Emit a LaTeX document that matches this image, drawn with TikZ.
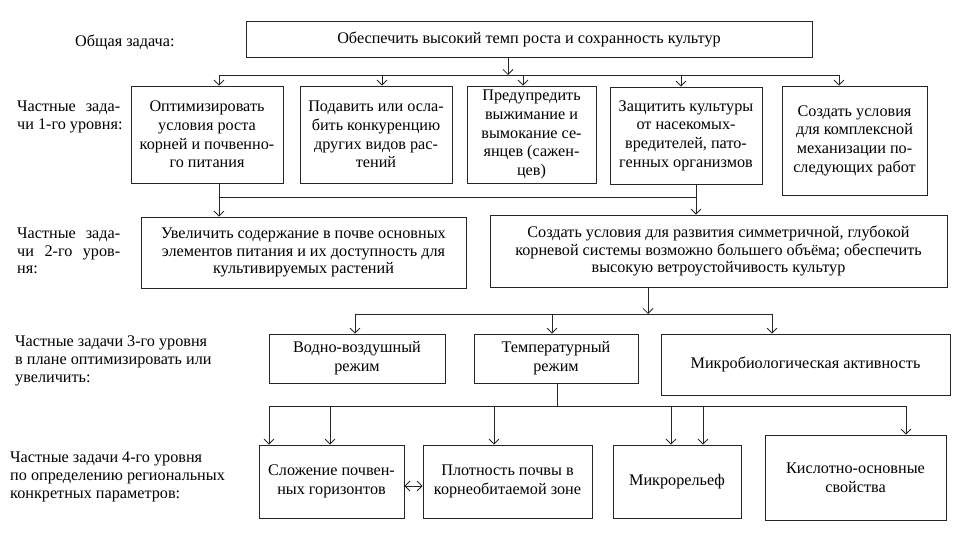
\documentclass[tikz,border=0pt]{standalone}
\usepackage{fontspec}
\setmainfont{Liberation Serif}
\usetikzlibrary{arrows.meta}
\newcommand{\jline}[1]{\makebox[103pt][s]{#1}}
\begin{document}
\begin{tikzpicture}[x=1pt,y=-1pt,
  txt/.style={font=\fontsize{16.2}{18.7}\selectfont, inner sep=0pt},
  tight/.style={font=\fontsize{16.2}{17.7}\selectfont},
  box/.style={txt, draw=black!85, line width=0.8pt, align=center},
  lbl/.style={txt, align=left, anchor=west},
  ln/.style={draw=black!85, line width=0.8pt},
  arr/.style={ln, -{Straight Barb[length=5pt,width=10pt]}},
  dbl/.style={ln, {Straight Barb[length=5pt,width=10pt]}-{Straight Barb[length=5pt,width=10pt]}}]
\useasboundingbox (0,0) rectangle (957,548);
% labels
\node[lbl] (l0) at (75,42) {Общая задача:};
\node[lbl] (l1) at (17,117) {\jline{Частные зада-}\\чи 1-го уровня:};
\node[lbl, tight] (l2) at (17,251) {\jline{Частные зада-}\\\jline{чи 2-го уров-}\\ня:};
\node[lbl, tight] (l3) at (15,361) {Частные задачи 3-го уровня\\в плане оптимизировать или\\увеличить:};
\node[lbl, tight] (l4) at (10,477) {Частные задачи 4-го уровня\\по определению региональных\\конкретных параметров:};
% boxes
\node[box, minimum width=566pt, minimum height=36pt] (top) at (529,39) {Обеспечить высокий темп роста и сохранность культур};
\node[box, minimum width=152pt, minimum height=97pt] (b1) at (207,134.5) {Оптимизировать\\условия роста\\корней и почвенно-\\го питания};
\node[box, minimum width=152pt, minimum height=97pt] (b2) at (376,134.5) {Подавить или осла-\\бить конкуренцию\\других видов рас-\\тений};
\node[box, minimum width=129pt, minimum height=97pt] (b3) at (531.5,134.5) {Предупредить\\выжимание и\\вымокание се-\\янцев (сажен-\\цев)};
\node[box, minimum width=152pt, minimum height=97pt] (b4) at (686,135.5) {Защитить культуры\\от насекомых-\\вредителей, пато-\\генных организмов};
\node[box, minimum width=145pt, minimum height=109pt] (b5) at (854.5,140.5) {Создать условия\\для комплексной\\механизации по-\\следующих работ};
\node[box, tight, minimum width=325pt, minimum height=71pt] (c1) at (303.5,252.5) {Увеличить содержание в почве основных\\элементов питания и их доступность для\\культивируемых растений};
\node[box, tight, minimum width=457pt, minimum height=72pt] (c2) at (718.5,251) {Создать условия для развития симметричной, глубокой\\корневой системы возможно большего объёма; обеспечить\\высокую ветроустойчивость культур};
\node[box, minimum width=176pt, minimum height=49pt] (d1) at (357,358.5) {Водно-воздушный\\режим};
\node[box, minimum width=164pt, minimum height=49pt] (d2) at (556,358.5) {Температурный\\режим};
\node[box, minimum width=289pt, minimum height=61pt] (d3) at (805.5,364.5) {Микробиологическая активность};
\node[box, minimum width=145pt, minimum height=73pt] (e1) at (331.5,481.5) {Сложение почвен-\\ных горизонтов};
\node[box, minimum width=169pt, minimum height=73pt] (e2) at (507.5,481.5) {Плотность почвы в\\корнеобитаемой зоне};
\node[box, minimum width=128pt, minimum height=73pt] (e3) at (677,481.5) {Микрорельеф};
\node[box, minimum width=181pt, minimum height=85pt] (e4) at (855.5,477.5) {Кислотно-основные\\свойства};
% bus 1
\coordinate (t1) at (508,75);
\coordinate (p1) at (219,75);
\coordinate (p2) at (382,75);
\coordinate (p3) at (523,75);
\coordinate (p4) at (681,75);
\coordinate (p5) at (839,75);
\draw[arr] (top.south -| t1) -- (t1);
\draw[ln] (p1) -- (p5);
\draw[arr] (p1) -- (p1 |- b1.north);
\draw[arr] (p2) -- (p2 |- b2.north);
\draw[arr] (p3) -- (p3 |- b3.north);
\draw[arr] (p4) -- (p4 |- b4.north);
\draw[arr] (p5) -- (p5 |- b5.north);
% bus 2
\coordinate (q1) at (219,197);
\coordinate (q2) at (696,197);
\draw[ln] (b1.south -| q1) -- (q1) -- (q2) -- (b4.south -| q2);
\draw[arr] (q1) -- (q1 |- c1.north);
\draw[arr] (q2) -- (q2 |- c2.north);
% bus 3
\coordinate (t3) at (648,314);
\coordinate (r1) at (355,314);
\coordinate (r2) at (552,314);
\coordinate (r3) at (772,314);
\draw[arr] (c2.south -| t3) -- (t3);
\draw[ln] (r1) -- (r3);
\draw[arr] (r1) -- (r1 |- d1.north);
\draw[arr] (r2) -- (r2 |- d2.north);
\draw[arr] (r3) -- (r3 |- d3.north);
% bus 4
\coordinate (t4) at (557,406);
\coordinate (s1) at (269,406);
\coordinate (s2) at (330,406);
\coordinate (s3) at (494,406);
\coordinate (s4) at (671,406);
\coordinate (s5) at (703,406);
\coordinate (s6) at (906,406);
\draw[ln] (d2.south -| t4) -- (t4);
\draw[ln] (s1) -- (s6);
\draw[arr] (s1) -- (s1 |- e1.north);
\draw[arr] (s2) -- (s2 |- e1.north);
\draw[arr] (s3) -- (s3 |- e2.north);
\draw[arr] (s4) -- (s4 |- e3.north);
\draw[arr] (s5) -- (s5 |- e3.north);
\draw[arr] (s6) -- (s6 |- e4.north);
\draw[dbl] ([yshift=-4.5pt]e1.east) -- ([yshift=-4.5pt]e2.west);
\end{tikzpicture}
\end{document}
